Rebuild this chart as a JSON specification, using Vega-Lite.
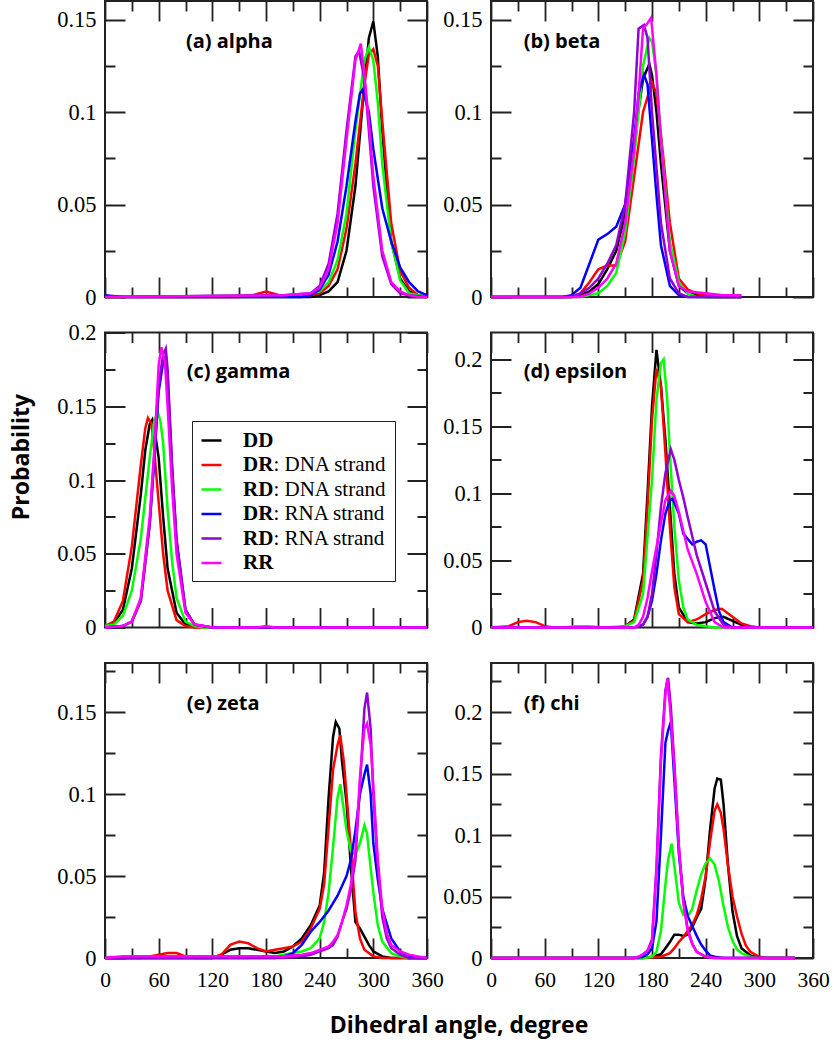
{
"$schema": "https://vega.github.io/schema/vega-lite/v6.json",
"background": "white",
"padding": {"left": 8, "top": 0, "right": 5, "bottom": 5},
"datasets": {
"a": [
{"s":"DD","x":0,"y":0},{"s":"DD","x":230,"y":0},{"s":"DD","x":240,"y":0.001},{"s":"DD","x":250,"y":0.003},{"s":"DD","x":260,"y":0.008},{"s":"DD","x":270,"y":0.025},{"s":"DD","x":280,"y":0.06},{"s":"DD","x":290,"y":0.115},{"s":"DD","x":295,"y":0.14},{"s":"DD","x":300,"y":0.149},{"s":"DD","x":305,"y":0.13},{"s":"DD","x":310,"y":0.09},{"s":"DD","x":320,"y":0.03},{"s":"DD","x":330,"y":0.01},{"s":"DD","x":340,"y":0.003},{"s":"DD","x":350,"y":0.001},{"s":"DD","x":360,"y":0},
{"s":"DRd","x":0,"y":0},{"s":"DRd","x":150,"y":0},{"s":"DRd","x":165,"y":0.001},{"s":"DRd","x":180,"y":0.003},{"s":"DRd","x":195,"y":0.001},{"s":"DRd","x":210,"y":0.001},{"s":"DRd","x":230,"y":0.001},{"s":"DRd","x":240,"y":0.002},{"s":"DRd","x":250,"y":0.006},{"s":"DRd","x":260,"y":0.015},{"s":"DRd","x":270,"y":0.037},{"s":"DRd","x":280,"y":0.072},{"s":"DRd","x":290,"y":0.115},{"s":"DRd","x":295,"y":0.131},{"s":"DRd","x":300,"y":0.134},{"s":"DRd","x":305,"y":0.125},{"s":"DRd","x":310,"y":0.095},{"s":"DRd","x":320,"y":0.04},{"s":"DRd","x":330,"y":0.014},{"s":"DRd","x":340,"y":0.005},{"s":"DRd","x":350,"y":0.001},{"s":"DRd","x":360,"y":0},
{"s":"RDd","x":0,"y":0},{"s":"RDd","x":220,"y":0.001},{"s":"RDd","x":240,"y":0.003},{"s":"RDd","x":250,"y":0.008},{"s":"RDd","x":260,"y":0.02},{"s":"RDd","x":270,"y":0.045},{"s":"RDd","x":280,"y":0.09},{"s":"RDd","x":290,"y":0.128},{"s":"RDd","x":295,"y":0.135},{"s":"RDd","x":300,"y":0.128},{"s":"RDd","x":305,"y":0.105},{"s":"RDd","x":310,"y":0.072},{"s":"RDd","x":320,"y":0.03},{"s":"RDd","x":330,"y":0.009},{"s":"RDd","x":340,"y":0.002},{"s":"RDd","x":350,"y":0.001},{"s":"RDd","x":360,"y":0},
{"s":"DRr","x":0,"y":0.001},{"s":"DRr","x":20,"y":0},{"s":"DRr","x":220,"y":0},{"s":"DRr","x":230,"y":0.001},{"s":"DRr","x":240,"y":0.004},{"s":"DRr","x":250,"y":0.012},{"s":"DRr","x":260,"y":0.03},{"s":"DRr","x":270,"y":0.06},{"s":"DRr","x":280,"y":0.095},{"s":"DRr","x":285,"y":0.11},{"s":"DRr","x":288,"y":0.112},{"s":"DRr","x":295,"y":0.1},{"s":"DRr","x":300,"y":0.08},{"s":"DRr","x":310,"y":0.048},{"s":"DRr","x":320,"y":0.03},{"s":"DRr","x":330,"y":0.016},{"s":"DRr","x":340,"y":0.008},{"s":"DRr","x":350,"y":0.003},{"s":"DRr","x":360,"y":0.001},
{"s":"RDr","x":0,"y":0},{"s":"RDr","x":200,"y":0.001},{"s":"RDr","x":230,"y":0.002},{"s":"RDr","x":240,"y":0.006},{"s":"RDr","x":250,"y":0.018},{"s":"RDr","x":260,"y":0.045},{"s":"RDr","x":270,"y":0.09},{"s":"RDr","x":280,"y":0.13},{"s":"RDr","x":284,"y":0.133},{"s":"RDr","x":290,"y":0.118},{"s":"RDr","x":295,"y":0.09},{"s":"RDr","x":300,"y":0.06},{"s":"RDr","x":310,"y":0.022},{"s":"RDr","x":320,"y":0.007},{"s":"RDr","x":330,"y":0.002},{"s":"RDr","x":340,"y":0.001},{"s":"RDr","x":360,"y":0},
{"s":"RR","x":0,"y":0},{"s":"RR","x":200,"y":0.001},{"s":"RR","x":230,"y":0.002},{"s":"RR","x":240,"y":0.005},{"s":"RR","x":250,"y":0.015},{"s":"RR","x":260,"y":0.04},{"s":"RR","x":270,"y":0.085},{"s":"RR","x":280,"y":0.128},{"s":"RR","x":286,"y":0.137},{"s":"RR","x":290,"y":0.12},{"s":"RR","x":295,"y":0.095},{"s":"RR","x":300,"y":0.065},{"s":"RR","x":310,"y":0.025},{"s":"RR","x":320,"y":0.008},{"s":"RR","x":330,"y":0.003},{"s":"RR","x":340,"y":0.001},{"s":"RR","x":350,"y":0},{"s":"RR","x":360,"y":0}
],
"b": [
{"s":"DD","x":0,"y":0},{"s":"DD","x":90,"y":0},{"s":"DD","x":100,"y":0.001},{"s":"DD","x":110,"y":0.003},{"s":"DD","x":120,"y":0.007},{"s":"DD","x":130,"y":0.015},{"s":"DD","x":140,"y":0.025},{"s":"DD","x":150,"y":0.045},{"s":"DD","x":160,"y":0.085},{"s":"DD","x":170,"y":0.118},{"s":"DD","x":177,"y":0.126},{"s":"DD","x":180,"y":0.12},{"s":"DD","x":185,"y":0.1},{"s":"DD","x":190,"y":0.072},{"s":"DD","x":200,"y":0.025},{"s":"DD","x":210,"y":0.006},{"s":"DD","x":220,"y":0.002},{"s":"DD","x":230,"y":0.001},{"s":"DD","x":240,"y":0},{"s":"DD","x":280,"y":0},
{"s":"DRd","x":0,"y":0},{"s":"DRd","x":90,"y":0},{"s":"DRd","x":100,"y":0.002},{"s":"DRd","x":110,"y":0.008},{"s":"DRd","x":120,"y":0.015},{"s":"DRd","x":130,"y":0.017},{"s":"DRd","x":140,"y":0.017},{"s":"DRd","x":150,"y":0.03},{"s":"DRd","x":160,"y":0.065},{"s":"DRd","x":170,"y":0.1},{"s":"DRd","x":180,"y":0.116},{"s":"DRd","x":185,"y":0.11},{"s":"DRd","x":190,"y":0.088},{"s":"DRd","x":200,"y":0.04},{"s":"DRd","x":210,"y":0.01},{"s":"DRd","x":220,"y":0.004},{"s":"DRd","x":230,"y":0.002},{"s":"DRd","x":240,"y":0.001},{"s":"DRd","x":250,"y":0},{"s":"DRd","x":280,"y":0},
{"s":"RDd","x":0,"y":0},{"s":"RDd","x":100,"y":0},{"s":"RDd","x":110,"y":0.001},{"s":"RDd","x":120,"y":0.002},{"s":"RDd","x":130,"y":0.006},{"s":"RDd","x":140,"y":0.013},{"s":"RDd","x":150,"y":0.035},{"s":"RDd","x":160,"y":0.075},{"s":"RDd","x":170,"y":0.125},{"s":"RDd","x":177,"y":0.14},{"s":"RDd","x":180,"y":0.138},{"s":"RDd","x":185,"y":0.12},{"s":"RDd","x":190,"y":0.085},{"s":"RDd","x":200,"y":0.03},{"s":"RDd","x":210,"y":0.008},{"s":"RDd","x":220,"y":0.002},{"s":"RDd","x":230,"y":0},{"s":"RDd","x":280,"y":0},
{"s":"DRr","x":0,"y":0},{"s":"DRr","x":80,"y":0},{"s":"DRr","x":90,"y":0.001},{"s":"DRr","x":100,"y":0.005},{"s":"DRr","x":110,"y":0.018},{"s":"DRr","x":120,"y":0.031},{"s":"DRr","x":130,"y":0.034},{"s":"DRr","x":140,"y":0.038},{"s":"DRr","x":150,"y":0.05},{"s":"DRr","x":160,"y":0.085},{"s":"DRr","x":165,"y":0.11},{"s":"DRr","x":171,"y":0.12},{"s":"DRr","x":175,"y":0.115},{"s":"DRr","x":180,"y":0.085},{"s":"DRr","x":185,"y":0.055},{"s":"DRr","x":190,"y":0.028},{"s":"DRr","x":200,"y":0.006},{"s":"DRr","x":210,"y":0.001},{"s":"DRr","x":220,"y":0},{"s":"DRr","x":280,"y":0},
{"s":"RDr","x":0,"y":0},{"s":"RDr","x":90,"y":0},{"s":"RDr","x":100,"y":0.002},{"s":"RDr","x":110,"y":0.005},{"s":"RDr","x":120,"y":0.01},{"s":"RDr","x":130,"y":0.018},{"s":"RDr","x":140,"y":0.028},{"s":"RDr","x":150,"y":0.05},{"s":"RDr","x":160,"y":0.1},{"s":"RDr","x":165,"y":0.145},{"s":"RDr","x":171,"y":0.147},{"s":"RDr","x":175,"y":0.14},{"s":"RDr","x":180,"y":0.1},{"s":"RDr","x":185,"y":0.07},{"s":"RDr","x":190,"y":0.04},{"s":"RDr","x":200,"y":0.01},{"s":"RDr","x":210,"y":0.002},{"s":"RDr","x":220,"y":0},{"s":"RDr","x":280,"y":0},
{"s":"RR","x":0,"y":0},{"s":"RR","x":100,"y":0},{"s":"RR","x":110,"y":0.002},{"s":"RR","x":120,"y":0.005},{"s":"RR","x":130,"y":0.01},{"s":"RR","x":140,"y":0.018},{"s":"RR","x":150,"y":0.04},{"s":"RR","x":160,"y":0.08},{"s":"RR","x":165,"y":0.11},{"s":"RR","x":170,"y":0.145},{"s":"RR","x":175,"y":0.148},{"s":"RR","x":179,"y":0.151},{"s":"RR","x":185,"y":0.12},{"s":"RR","x":190,"y":0.085},{"s":"RR","x":200,"y":0.025},{"s":"RR","x":210,"y":0.006},{"s":"RR","x":220,"y":0.003},{"s":"RR","x":240,"y":0.002},{"s":"RR","x":260,"y":0.001},{"s":"RR","x":280,"y":0.001}
],
"c": [
{"s":"DD","x":0,"y":0.001},{"s":"DD","x":10,"y":0.003},{"s":"DD","x":20,"y":0.012},{"s":"DD","x":30,"y":0.04},{"s":"DD","x":40,"y":0.09},{"s":"DD","x":45,"y":0.12},{"s":"DD","x":50,"y":0.138},{"s":"DD","x":53,"y":0.141},{"s":"DD","x":55,"y":0.136},{"s":"DD","x":60,"y":0.115},{"s":"DD","x":65,"y":0.075},{"s":"DD","x":70,"y":0.04},{"s":"DD","x":80,"y":0.01},{"s":"DD","x":90,"y":0.002},{"s":"DD","x":100,"y":0.001},{"s":"DD","x":120,"y":0},{"s":"DD","x":360,"y":0},
{"s":"DRd","x":0,"y":0.001},{"s":"DRd","x":10,"y":0.004},{"s":"DRd","x":20,"y":0.018},{"s":"DRd","x":30,"y":0.055},{"s":"DRd","x":40,"y":0.11},{"s":"DRd","x":45,"y":0.135},{"s":"DRd","x":48,"y":0.142},{"s":"DRd","x":52,"y":0.138},{"s":"DRd","x":55,"y":0.12},{"s":"DRd","x":60,"y":0.085},{"s":"DRd","x":65,"y":0.05},{"s":"DRd","x":70,"y":0.025},{"s":"DRd","x":80,"y":0.005},{"s":"DRd","x":90,"y":0.001},{"s":"DRd","x":100,"y":0},{"s":"DRd","x":360,"y":0},
{"s":"RDd","x":0,"y":0.001},{"s":"RDd","x":10,"y":0.002},{"s":"RDd","x":20,"y":0.008},{"s":"RDd","x":30,"y":0.025},{"s":"RDd","x":40,"y":0.06},{"s":"RDd","x":50,"y":0.115},{"s":"RDd","x":55,"y":0.14},{"s":"RDd","x":59,"y":0.146},{"s":"RDd","x":62,"y":0.14},{"s":"RDd","x":65,"y":0.125},{"s":"RDd","x":70,"y":0.08},{"s":"RDd","x":75,"y":0.045},{"s":"RDd","x":80,"y":0.02},{"s":"RDd","x":90,"y":0.004},{"s":"RDd","x":100,"y":0.001},{"s":"RDd","x":110,"y":0},{"s":"RDd","x":360,"y":0},
{"s":"DRr","x":0,"y":0},{"s":"DRr","x":20,"y":0.001},{"s":"DRr","x":30,"y":0.004},{"s":"DRr","x":40,"y":0.018},{"s":"DRr","x":50,"y":0.07},{"s":"DRr","x":55,"y":0.113},{"s":"DRr","x":60,"y":0.16},{"s":"DRr","x":65,"y":0.18},{"s":"DRr","x":68,"y":0.184},{"s":"DRr","x":70,"y":0.17},{"s":"DRr","x":75,"y":0.108},{"s":"DRr","x":80,"y":0.058},{"s":"DRr","x":90,"y":0.012},{"s":"DRr","x":100,"y":0.002},{"s":"DRr","x":110,"y":0.001},{"s":"DRr","x":120,"y":0},{"s":"DRr","x":360,"y":0},
{"s":"RDr","x":0,"y":0},{"s":"RDr","x":20,"y":0.001},{"s":"RDr","x":30,"y":0.004},{"s":"RDr","x":40,"y":0.018},{"s":"RDr","x":50,"y":0.07},{"s":"RDr","x":55,"y":0.115},{"s":"RDr","x":60,"y":0.165},{"s":"RDr","x":65,"y":0.185},{"s":"RDr","x":68,"y":0.189},{"s":"RDr","x":70,"y":0.175},{"s":"RDr","x":75,"y":0.11},{"s":"RDr","x":80,"y":0.06},{"s":"RDr","x":90,"y":0.012},{"s":"RDr","x":100,"y":0.002},{"s":"RDr","x":110,"y":0.001},{"s":"RDr","x":120,"y":0},{"s":"RDr","x":360,"y":0},
{"s":"RR","x":0,"y":0},{"s":"RR","x":20,"y":0.001},{"s":"RR","x":30,"y":0.004},{"s":"RR","x":40,"y":0.02},{"s":"RR","x":50,"y":0.075},{"s":"RR","x":55,"y":0.12},{"s":"RR","x":60,"y":0.178},{"s":"RR","x":63,"y":0.19},{"s":"RR","x":67,"y":0.18},{"s":"RR","x":70,"y":0.15},{"s":"RR","x":75,"y":0.095},{"s":"RR","x":80,"y":0.05},{"s":"RR","x":90,"y":0.01},{"s":"RR","x":100,"y":0.002},{"s":"RR","x":110,"y":0.001},{"s":"RR","x":120,"y":0},{"s":"RR","x":170,"y":0},{"s":"RR","x":180,"y":0.001},{"s":"RR","x":190,"y":0},{"s":"RR","x":360,"y":0}
],
"d": [
{"s":"DD","x":0,"y":0},{"s":"DD","x":140,"y":0},{"s":"DD","x":150,"y":0.001},{"s":"DD","x":160,"y":0.006},{"s":"DD","x":170,"y":0.04},{"s":"DD","x":175,"y":0.1},{"s":"DD","x":180,"y":0.165},{"s":"DD","x":185,"y":0.207},{"s":"DD","x":190,"y":0.18},{"s":"DD","x":195,"y":0.14},{"s":"DD","x":200,"y":0.09},{"s":"DD","x":205,"y":0.04},{"s":"DD","x":210,"y":0.015},{"s":"DD","x":220,"y":0.004},{"s":"DD","x":230,"y":0.003},{"s":"DD","x":240,"y":0.004},{"s":"DD","x":250,"y":0.007},{"s":"DD","x":260,"y":0.008},{"s":"DD","x":270,"y":0.005},{"s":"DD","x":280,"y":0.002},{"s":"DD","x":290,"y":0},{"s":"DD","x":360,"y":0},
{"s":"DRd","x":0,"y":0},{"s":"DRd","x":20,"y":0.001},{"s":"DRd","x":30,"y":0.004},{"s":"DRd","x":40,"y":0.005},{"s":"DRd","x":50,"y":0.004},{"s":"DRd","x":60,"y":0.001},{"s":"DRd","x":70,"y":0},{"s":"DRd","x":140,"y":0},{"s":"DRd","x":150,"y":0.001},{"s":"DRd","x":160,"y":0.005},{"s":"DRd","x":170,"y":0.035},{"s":"DRd","x":175,"y":0.09},{"s":"DRd","x":180,"y":0.155},{"s":"DRd","x":185,"y":0.193},{"s":"DRd","x":190,"y":0.18},{"s":"DRd","x":195,"y":0.13},{"s":"DRd","x":200,"y":0.075},{"s":"DRd","x":205,"y":0.03},{"s":"DRd","x":210,"y":0.01},{"s":"DRd","x":220,"y":0.004},{"s":"DRd","x":230,"y":0.006},{"s":"DRd","x":240,"y":0.01},{"s":"DRd","x":250,"y":0.013},{"s":"DRd","x":258,"y":0.014},{"s":"DRd","x":270,"y":0.008},{"s":"DRd","x":280,"y":0.003},{"s":"DRd","x":290,"y":0.001},{"s":"DRd","x":300,"y":0},{"s":"DRd","x":360,"y":0},
{"s":"RDd","x":0,"y":0},{"s":"RDd","x":80,"y":0},{"s":"RDd","x":95,"y":0.001},{"s":"RDd","x":110,"y":0.001},{"s":"RDd","x":125,"y":0},{"s":"RDd","x":150,"y":0.001},{"s":"RDd","x":160,"y":0.004},{"s":"RDd","x":170,"y":0.025},{"s":"RDd","x":180,"y":0.11},{"s":"RDd","x":185,"y":0.17},{"s":"RDd","x":190,"y":0.197},{"s":"RDd","x":193,"y":0.2},{"s":"RDd","x":197,"y":0.17},{"s":"RDd","x":200,"y":0.13},{"s":"RDd","x":205,"y":0.075},{"s":"RDd","x":210,"y":0.035},{"s":"RDd","x":215,"y":0.015},{"s":"RDd","x":220,"y":0.006},{"s":"RDd","x":230,"y":0.002},{"s":"RDd","x":240,"y":0.001},{"s":"RDd","x":250,"y":0},{"s":"RDd","x":360,"y":0},
{"s":"DRr","x":0,"y":0},{"s":"DRr","x":160,"y":0},{"s":"DRr","x":170,"y":0.002},{"s":"DRr","x":175,"y":0.008},{"s":"DRr","x":180,"y":0.02},{"s":"DRr","x":185,"y":0.04},{"s":"DRr","x":190,"y":0.065},{"s":"DRr","x":195,"y":0.085},{"s":"DRr","x":200,"y":0.095},{"s":"DRr","x":203,"y":0.096},{"s":"DRr","x":210,"y":0.085},{"s":"DRr","x":215,"y":0.07},{"s":"DRr","x":220,"y":0.066},{"s":"DRr","x":225,"y":0.062},{"s":"DRr","x":230,"y":0.064},{"s":"DRr","x":235,"y":0.065},{"s":"DRr","x":240,"y":0.062},{"s":"DRr","x":245,"y":0.045},{"s":"DRr","x":250,"y":0.028},{"s":"DRr","x":255,"y":0.012},{"s":"DRr","x":260,"y":0.004},{"s":"DRr","x":270,"y":0},{"s":"DRr","x":360,"y":0},
{"s":"RDr","x":0,"y":0},{"s":"RDr","x":160,"y":0},{"s":"RDr","x":170,"y":0.002},{"s":"RDr","x":175,"y":0.008},{"s":"RDr","x":180,"y":0.025},{"s":"RDr","x":185,"y":0.055},{"s":"RDr","x":190,"y":0.09},{"s":"RDr","x":195,"y":0.115},{"s":"RDr","x":201,"y":0.133},{"s":"RDr","x":205,"y":0.125},{"s":"RDr","x":210,"y":0.11},{"s":"RDr","x":215,"y":0.097},{"s":"RDr","x":220,"y":0.082},{"s":"RDr","x":230,"y":0.054},{"s":"RDr","x":240,"y":0.033},{"s":"RDr","x":250,"y":0.012},{"s":"RDr","x":260,"y":0.002},{"s":"RDr","x":270,"y":0},{"s":"RDr","x":360,"y":0},
{"s":"RR","x":0,"y":0},{"s":"RR","x":160,"y":0},{"s":"RR","x":165,"y":0.002},{"s":"RR","x":170,"y":0.008},{"s":"RR","x":175,"y":0.022},{"s":"RR","x":180,"y":0.042},{"s":"RR","x":185,"y":0.06},{"s":"RR","x":190,"y":0.078},{"s":"RR","x":195,"y":0.095},{"s":"RR","x":201,"y":0.102},{"s":"RR","x":205,"y":0.098},{"s":"RR","x":210,"y":0.086},{"s":"RR","x":220,"y":0.058},{"s":"RR","x":230,"y":0.04},{"s":"RR","x":240,"y":0.019},{"s":"RR","x":250,"y":0.004},{"s":"RR","x":260,"y":0},{"s":"RR","x":360,"y":0}
],
"e": [
{"s":"DD","x":0,"y":0},{"s":"DD","x":120,"y":0},{"s":"DD","x":130,"y":0.002},{"s":"DD","x":140,"y":0.005},{"s":"DD","x":150,"y":0.006},{"s":"DD","x":160,"y":0.006},{"s":"DD","x":170,"y":0.005},{"s":"DD","x":180,"y":0.004},{"s":"DD","x":190,"y":0.003},{"s":"DD","x":200,"y":0.004},{"s":"DD","x":210,"y":0.007},{"s":"DD","x":220,"y":0.012},{"s":"DD","x":230,"y":0.02},{"s":"DD","x":240,"y":0.032},{"s":"DD","x":245,"y":0.052},{"s":"DD","x":250,"y":0.098},{"s":"DD","x":255,"y":0.135},{"s":"DD","x":258,"y":0.144},{"s":"DD","x":262,"y":0.14},{"s":"DD","x":265,"y":0.12},{"s":"DD","x":270,"y":0.095},{"s":"DD","x":275,"y":0.055},{"s":"DD","x":280,"y":0.022},{"s":"DD","x":285,"y":0.018},{"s":"DD","x":290,"y":0.013},{"s":"DD","x":295,"y":0.008},{"s":"DD","x":300,"y":0.004},{"s":"DD","x":310,"y":0.001},{"s":"DD","x":320,"y":0},{"s":"DD","x":360,"y":0},
{"s":"DRd","x":0,"y":0},{"s":"DRd","x":40,"y":0},{"s":"DRd","x":50,"y":0.001},{"s":"DRd","x":60,"y":0.002},{"s":"DRd","x":70,"y":0.003},{"s":"DRd","x":80,"y":0.003},{"s":"DRd","x":90,"y":0.001},{"s":"DRd","x":100,"y":0},{"s":"DRd","x":120,"y":0},{"s":"DRd","x":130,"y":0.002},{"s":"DRd","x":140,"y":0.008},{"s":"DRd","x":150,"y":0.01},{"s":"DRd","x":160,"y":0.009},{"s":"DRd","x":170,"y":0.006},{"s":"DRd","x":180,"y":0.004},{"s":"DRd","x":190,"y":0.005},{"s":"DRd","x":200,"y":0.006},{"s":"DRd","x":210,"y":0.007},{"s":"DRd","x":220,"y":0.01},{"s":"DRd","x":230,"y":0.018},{"s":"DRd","x":240,"y":0.03},{"s":"DRd","x":245,"y":0.045},{"s":"DRd","x":250,"y":0.08},{"s":"DRd","x":255,"y":0.115},{"s":"DRd","x":260,"y":0.13},{"s":"DRd","x":263,"y":0.136},{"s":"DRd","x":267,"y":0.12},{"s":"DRd","x":270,"y":0.1},{"s":"DRd","x":275,"y":0.065},{"s":"DRd","x":280,"y":0.028},{"s":"DRd","x":285,"y":0.012},{"s":"DRd","x":290,"y":0.005},{"s":"DRd","x":300,"y":0.001},{"s":"DRd","x":310,"y":0},{"s":"DRd","x":360,"y":0},
{"s":"RDd","x":0,"y":0},{"s":"RDd","x":160,"y":0},{"s":"RDd","x":170,"y":0.001},{"s":"RDd","x":190,"y":0.001},{"s":"RDd","x":200,"y":0.002},{"s":"RDd","x":210,"y":0.003},{"s":"RDd","x":220,"y":0.004},{"s":"RDd","x":230,"y":0.006},{"s":"RDd","x":240,"y":0.012},{"s":"RDd","x":245,"y":0.022},{"s":"RDd","x":250,"y":0.04},{"s":"RDd","x":255,"y":0.068},{"s":"RDd","x":260,"y":0.098},{"s":"RDd","x":263,"y":0.106},{"s":"RDd","x":267,"y":0.09},{"s":"RDd","x":270,"y":0.078},{"s":"RDd","x":275,"y":0.065},{"s":"RDd","x":280,"y":0.063},{"s":"RDd","x":285,"y":0.07},{"s":"RDd","x":290,"y":0.081},{"s":"RDd","x":293,"y":0.076},{"s":"RDd","x":295,"y":0.065},{"s":"RDd","x":300,"y":0.04},{"s":"RDd","x":305,"y":0.02},{"s":"RDd","x":310,"y":0.01},{"s":"RDd","x":320,"y":0.003},{"s":"RDd","x":330,"y":0.001},{"s":"RDd","x":340,"y":0},{"s":"RDd","x":360,"y":0},
{"s":"DRr","x":0,"y":0},{"s":"DRr","x":190,"y":0},{"s":"DRr","x":200,"y":0.001},{"s":"DRr","x":210,"y":0.003},{"s":"DRr","x":220,"y":0.008},{"s":"DRr","x":230,"y":0.016},{"s":"DRr","x":240,"y":0.022},{"s":"DRr","x":250,"y":0.029},{"s":"DRr","x":260,"y":0.038},{"s":"DRr","x":270,"y":0.05},{"s":"DRr","x":275,"y":0.06},{"s":"DRr","x":280,"y":0.078},{"s":"DRr","x":285,"y":0.1},{"s":"DRr","x":290,"y":0.112},{"s":"DRr","x":293,"y":0.118},{"s":"DRr","x":297,"y":0.1},{"s":"DRr","x":300,"y":0.07},{"s":"DRr","x":305,"y":0.048},{"s":"DRr","x":310,"y":0.03},{"s":"DRr","x":320,"y":0.012},{"s":"DRr","x":330,"y":0.004},{"s":"DRr","x":340,"y":0.001},{"s":"DRr","x":350,"y":0},{"s":"DRr","x":360,"y":0},
{"s":"RDr","x":0,"y":0},{"s":"RDr","x":200,"y":0},{"s":"RDr","x":220,"y":0.001},{"s":"RDr","x":230,"y":0.002},{"s":"RDr","x":240,"y":0.004},{"s":"RDr","x":250,"y":0.006},{"s":"RDr","x":255,"y":0.008},{"s":"RDr","x":260,"y":0.013},{"s":"RDr","x":265,"y":0.022},{"s":"RDr","x":270,"y":0.03},{"s":"RDr","x":275,"y":0.042},{"s":"RDr","x":280,"y":0.06},{"s":"RDr","x":285,"y":0.105},{"s":"RDr","x":290,"y":0.152},{"s":"RDr","x":293,"y":0.162},{"s":"RDr","x":297,"y":0.14},{"s":"RDr","x":300,"y":0.1},{"s":"RDr","x":305,"y":0.055},{"s":"RDr","x":310,"y":0.025},{"s":"RDr","x":315,"y":0.012},{"s":"RDr","x":320,"y":0.006},{"s":"RDr","x":330,"y":0.002},{"s":"RDr","x":340,"y":0},{"s":"RDr","x":360,"y":0},
{"s":"RR","x":0,"y":0},{"s":"RR","x":20,"y":0.001},{"s":"RR","x":100,"y":0.001},{"s":"RR","x":200,"y":0.001},{"s":"RR","x":220,"y":0.002},{"s":"RR","x":230,"y":0.003},{"s":"RR","x":240,"y":0.005},{"s":"RR","x":250,"y":0.007},{"s":"RR","x":255,"y":0.01},{"s":"RR","x":260,"y":0.014},{"s":"RR","x":265,"y":0.022},{"s":"RR","x":270,"y":0.032},{"s":"RR","x":275,"y":0.045},{"s":"RR","x":280,"y":0.065},{"s":"RR","x":285,"y":0.11},{"s":"RR","x":290,"y":0.14},{"s":"RR","x":293,"y":0.143},{"s":"RR","x":297,"y":0.13},{"s":"RR","x":300,"y":0.105},{"s":"RR","x":305,"y":0.06},{"s":"RR","x":310,"y":0.03},{"s":"RR","x":315,"y":0.015},{"s":"RR","x":320,"y":0.008},{"s":"RR","x":330,"y":0.004},{"s":"RR","x":340,"y":0.002},{"s":"RR","x":350,"y":0.001},{"s":"RR","x":360,"y":0}
],
"f": [
{"s":"DD","x":0,"y":0},{"s":"DD","x":170,"y":0},{"s":"DD","x":180,"y":0.001},{"s":"DD","x":190,"y":0.003},{"s":"DD","x":195,"y":0.008},{"s":"DD","x":200,"y":0.013},{"s":"DD","x":205,"y":0.019},{"s":"DD","x":210,"y":0.019},{"s":"DD","x":215,"y":0.018},{"s":"DD","x":220,"y":0.019},{"s":"DD","x":225,"y":0.025},{"s":"DD","x":230,"y":0.033},{"s":"DD","x":235,"y":0.04},{"s":"DD","x":240,"y":0.065},{"s":"DD","x":245,"y":0.105},{"s":"DD","x":250,"y":0.138},{"s":"DD","x":253,"y":0.146},{"s":"DD","x":257,"y":0.145},{"s":"DD","x":260,"y":0.125},{"s":"DD","x":265,"y":0.075},{"s":"DD","x":270,"y":0.038},{"s":"DD","x":275,"y":0.018},{"s":"DD","x":280,"y":0.008},{"s":"DD","x":290,"y":0.002},{"s":"DD","x":300,"y":0},{"s":"DD","x":340,"y":0},
{"s":"DRd","x":0,"y":0},{"s":"DRd","x":170,"y":0},{"s":"DRd","x":190,"y":0.001},{"s":"DRd","x":200,"y":0.004},{"s":"DRd","x":205,"y":0.008},{"s":"DRd","x":210,"y":0.013},{"s":"DRd","x":215,"y":0.017},{"s":"DRd","x":220,"y":0.022},{"s":"DRd","x":225,"y":0.027},{"s":"DRd","x":230,"y":0.035},{"s":"DRd","x":235,"y":0.048},{"s":"DRd","x":240,"y":0.067},{"s":"DRd","x":245,"y":0.095},{"s":"DRd","x":250,"y":0.12},{"s":"DRd","x":253,"y":0.125},{"s":"DRd","x":257,"y":0.118},{"s":"DRd","x":260,"y":0.105},{"s":"DRd","x":265,"y":0.075},{"s":"DRd","x":270,"y":0.05},{"s":"DRd","x":275,"y":0.034},{"s":"DRd","x":280,"y":0.02},{"s":"DRd","x":285,"y":0.01},{"s":"DRd","x":290,"y":0.005},{"s":"DRd","x":300,"y":0.001},{"s":"DRd","x":310,"y":0},{"s":"DRd","x":340,"y":0},
{"s":"RDd","x":0,"y":0},{"s":"RDd","x":170,"y":0},{"s":"RDd","x":180,"y":0.001},{"s":"RDd","x":185,"y":0.005},{"s":"RDd","x":190,"y":0.022},{"s":"RDd","x":195,"y":0.06},{"s":"RDd","x":198,"y":0.08},{"s":"RDd","x":202,"y":0.093},{"s":"RDd","x":205,"y":0.075},{"s":"RDd","x":210,"y":0.045},{"s":"RDd","x":215,"y":0.035},{"s":"RDd","x":220,"y":0.034},{"s":"RDd","x":225,"y":0.04},{"s":"RDd","x":230,"y":0.055},{"s":"RDd","x":235,"y":0.068},{"s":"RDd","x":240,"y":0.077},{"s":"RDd","x":245,"y":0.081},{"s":"RDd","x":250,"y":0.076},{"s":"RDd","x":255,"y":0.062},{"s":"RDd","x":260,"y":0.042},{"s":"RDd","x":265,"y":0.025},{"s":"RDd","x":270,"y":0.014},{"s":"RDd","x":275,"y":0.007},{"s":"RDd","x":280,"y":0.004},{"s":"RDd","x":290,"y":0.001},{"s":"RDd","x":300,"y":0},{"s":"RDd","x":340,"y":0},
{"s":"DRr","x":0,"y":0},{"s":"DRr","x":160,"y":0},{"s":"DRr","x":170,"y":0.001},{"s":"DRr","x":175,"y":0.003},{"s":"DRr","x":180,"y":0.008},{"s":"DRr","x":185,"y":0.03},{"s":"DRr","x":190,"y":0.1},{"s":"DRr","x":195,"y":0.175},{"s":"DRr","x":198,"y":0.185},{"s":"DRr","x":201,"y":0.192},{"s":"DRr","x":205,"y":0.145},{"s":"DRr","x":210,"y":0.085},{"s":"DRr","x":215,"y":0.05},{"s":"DRr","x":220,"y":0.034},{"s":"DRr","x":225,"y":0.026},{"s":"DRr","x":230,"y":0.018},{"s":"DRr","x":235,"y":0.011},{"s":"DRr","x":240,"y":0.006},{"s":"DRr","x":245,"y":0.002},{"s":"DRr","x":250,"y":0.001},{"s":"DRr","x":260,"y":0},{"s":"DRr","x":340,"y":0},
{"s":"RDr","x":0,"y":0},{"s":"RDr","x":160,"y":0},{"s":"RDr","x":165,"y":0.001},{"s":"RDr","x":170,"y":0.003},{"s":"RDr","x":175,"y":0.006},{"s":"RDr","x":180,"y":0.015},{"s":"RDr","x":185,"y":0.074},{"s":"RDr","x":190,"y":0.165},{"s":"RDr","x":195,"y":0.218},{"s":"RDr","x":198,"y":0.228},{"s":"RDr","x":201,"y":0.205},{"s":"RDr","x":205,"y":0.158},{"s":"RDr","x":210,"y":0.092},{"s":"RDr","x":215,"y":0.046},{"s":"RDr","x":220,"y":0.023},{"s":"RDr","x":225,"y":0.012},{"s":"RDr","x":230,"y":0.005},{"s":"RDr","x":240,"y":0.001},{"s":"RDr","x":250,"y":0},{"s":"RDr","x":340,"y":0},
{"s":"RR","x":0,"y":0},{"s":"RR","x":160,"y":0},{"s":"RR","x":165,"y":0.001},{"s":"RR","x":170,"y":0.003},{"s":"RR","x":175,"y":0.006},{"s":"RR","x":180,"y":0.013},{"s":"RR","x":185,"y":0.07},{"s":"RR","x":190,"y":0.16},{"s":"RR","x":195,"y":0.215},{"s":"RR","x":197,"y":0.227},{"s":"RR","x":200,"y":0.205},{"s":"RR","x":205,"y":0.155},{"s":"RR","x":210,"y":0.09},{"s":"RR","x":215,"y":0.045},{"s":"RR","x":220,"y":0.022},{"s":"RR","x":225,"y":0.011},{"s":"RR","x":230,"y":0.005},{"s":"RR","x":240,"y":0.001},{"s":"RR","x":250,"y":0},{"s":"RR","x":340,"y":0}
]
},
"columns": 2,
"bounds": "flush",
"spacing": {"row": 35.5, "column": 64},
"concat": [
{"width":322,"height":296,"data":{"name":"a"},
 "resolve":{"axis":{"x":"independent","y":"independent"}},
 "layer":[
  {"mark":{"type":"line","strokeWidth":2.5},
   "encoding":{
    "x":{"field":"x","type":"quantitative","scale":{"domain":[0,360],"nice":false},"axis":{"orient":"bottom","labels":false,"ticks":false,"domain":false,"grid":true,"gridColor":"#222","gridWidth":1.8,"gridOpacity":1,"values":[0,30,60,90,120,150,180,210,240,270,300,330,360],"gridDash":{"condition":{"test":"datum.value % 60 === 0","value":[20,256,20]},"value":[10,276,10]},"title":null}},
    "y":{"field":"y","type":"quantitative","scale":{"domain":[0,0.16],"nice":false},"axis":{"orient":"left","ticks":false,"domain":false,"grid":true,"gridColor":"#222","gridWidth":1.8,"gridOpacity":1,"values":[0,0.025,0.05,0.075,0.1,0.125,0.15],"gridDash":{"condition":{"test":"abs(datum.value*20-round(datum.value*20))<0.000001","value":[20,282,20]},"value":[10,302,10]},"format":"~g","labelExpr":"abs(datum.value*20-round(datum.value*20))<0.000001 ? datum.label : ''","labelPadding":9,"labelFont":"Liberation Serif","labelFontSize":22.5,"labelColor":"#000","labelOverlap":false,"title":null}},
    "color":{"field":"s","type":"nominal","scale":{"domain":["DD","DRd","RDd","DRr","RDr","RR"],"range":["#000000","#ff0000","#00ff00","#0000ff","#9400d3","#ff00ff"]},"legend":{"title":null,"orient":"none","legendX":87,"legendY":420,"symbolType":"stroke","symbolSize":400,"symbolStrokeWidth":2.5,"labelFont":"Liberation Serif","labelFontSize":21,"labelFontWeight":"bold","labelColor":"#000","labelOffset":20,"rowPadding":2.5,"padding":8,"labelLimit":400,"labelExpr":"slice(datum.label,0,2)"}}}},
  {"data":{"values":[{"t":"(a) alpha"}]},
   "mark":{"type":"text","align":"left","baseline":"middle","font":"Open Sans","fontWeight":"bold","fontSize":20,"color":"#000"},
   "encoding":{"text":{"field":"t","type":"nominal"},"x":{"datum":90.5,"type":"quantitative","axis":null},"y":{"datum":0.1377,"type":"quantitative","axis":null}}}
 ]},
{"width":322,"height":296,"data":{"name":"b"},
 "resolve":{"axis":{"x":"independent","y":"independent"}},
 "layer":[
  {"mark":{"type":"line","strokeWidth":2.5},
   "encoding":{
    "x":{"field":"x","type":"quantitative","scale":{"domain":[0,360],"nice":false},"axis":{"orient":"bottom","labels":false,"ticks":false,"domain":false,"grid":true,"gridColor":"#222","gridWidth":1.8,"gridOpacity":1,"values":[0,30,60,90,120,150,180,210,240,270,300,330,360],"gridDash":{"condition":{"test":"datum.value % 60 === 0","value":[20,256,20]},"value":[10,276,10]},"title":null}},
    "y":{"field":"y","type":"quantitative","scale":{"domain":[0,0.16],"nice":false},"axis":{"orient":"left","ticks":false,"domain":false,"grid":true,"gridColor":"#222","gridWidth":1.8,"gridOpacity":1,"values":[0,0.025,0.05,0.075,0.1,0.125,0.15],"gridDash":{"condition":{"test":"abs(datum.value*20-round(datum.value*20))<0.000001","value":[20,282,20]},"value":[10,302,10]},"format":"~g","labelExpr":"abs(datum.value*20-round(datum.value*20))<0.000001 ? datum.label : ''","labelPadding":9,"labelFont":"Liberation Serif","labelFontSize":22.5,"labelColor":"#000","labelOverlap":false,"title":null}},
    "color":{"field":"s","type":"nominal","scale":{"domain":["DD","DRd","RDd","DRr","RDr","RR"],"range":["#000000","#ff0000","#00ff00","#0000ff","#9400d3","#ff00ff"]},"legend":{"title":null,"orient":"none","legendX":87,"legendY":420,"symbolType":"stroke","symbolSize":400,"symbolStrokeWidth":2.5,"labelFont":"Liberation Serif","labelFontSize":21,"labelFontWeight":"bold","labelColor":"#000","labelOffset":20,"rowPadding":2.5,"padding":8,"labelLimit":400,"labelExpr":"slice(datum.label,0,2)"}}}},
  {"data":{"values":[{"t":"(b) beta"}]},
   "mark":{"type":"text","align":"left","baseline":"middle","font":"Open Sans","fontWeight":"bold","fontSize":20,"color":"#000"},
   "encoding":{"text":{"field":"t","type":"nominal"},"x":{"datum":36.5,"type":"quantitative","axis":null},"y":{"datum":0.138,"type":"quantitative","axis":null}}}
 ]},
{"width":322,"height":295,"data":{"name":"c"},
 "resolve":{"axis":{"x":"independent","y":"independent"}},
 "layer":[
  {"mark":{"type":"line","strokeWidth":2.5},
   "encoding":{
    "x":{"field":"x","type":"quantitative","scale":{"domain":[0,360],"nice":false},"axis":{"orient":"bottom","labels":false,"ticks":false,"domain":false,"grid":true,"gridColor":"#222","gridWidth":1.8,"gridOpacity":1,"values":[0,30,60,90,120,150,180,210,240,270,300,330,360],"gridDash":{"condition":{"test":"datum.value % 60 === 0","value":[20,255,20]},"value":[10,275,10]},"title":null}},
    "y":{"field":"y","type":"quantitative","scale":{"domain":[0,0.2],"nice":false},"axis":{"orient":"left","ticks":false,"domain":false,"grid":true,"gridColor":"#222","gridWidth":1.8,"gridOpacity":1,"values":[0,0.025,0.05,0.075,0.1,0.125,0.15,0.175,0.2],"gridDash":{"condition":{"test":"abs(datum.value*20-round(datum.value*20))<0.000001","value":[20,282,20]},"value":[10,302,10]},"format":"~g","labelExpr":"abs(datum.value*20-round(datum.value*20))<0.000001 ? datum.label : ''","labelPadding":9,"labelFont":"Liberation Serif","labelFontSize":22.5,"labelColor":"#000","labelOverlap":false,"title":"Probability","titleX":-77,"titleY":124,"titleAngle":-90,"titleAlign":"center","titleBaseline":"alphabetic"}},
    "color":{"field":"s","type":"nominal","scale":{"domain":["DD","DRd","RDd","DRr","RDr","RR"],"range":["#000000","#ff0000","#00ff00","#0000ff","#9400d3","#ff00ff"]},"legend":{"title":null,"orient":"none","legendX":87,"legendY":420,"symbolType":"stroke","symbolSize":400,"symbolStrokeWidth":2.5,"labelFont":"Liberation Serif","labelFontSize":21,"labelFontWeight":"bold","labelColor":"#000","labelOffset":20,"rowPadding":2.5,"padding":8,"labelLimit":400,"labelExpr":"slice(datum.label,0,2)"}}}},
  {"data":{"values":[{"t":"(c) gamma"}]},
   "mark":{"type":"text","align":"left","baseline":"middle","font":"Open Sans","fontWeight":"bold","fontSize":20,"color":"#000"},
   "encoding":{"text":{"field":"t","type":"nominal"},"x":{"datum":91.3,"type":"quantitative","axis":null},"y":{"datum":0.1734,"type":"quantitative","axis":null}}},
  {"data":{"values":[{"k":"1"},{"k":"2"},{"k":"3"},{"k":"4"},{"k":"5"},{"k":"6"}]},
   "mark":{"type":"point","opacity":0},
   "encoding":{"shape":{"field":"k","type":"nominal","scale":{"domain":["1","2","3","4","5","6"],"range":["stroke","stroke","stroke","stroke","stroke","stroke"]},"legend":{"title":null,"orient":"none","legendX":87,"legendY":420,"symbolSize":400,"symbolOpacity":0,"symbolStrokeWidth":2.5,"labelFont":"Liberation Serif","labelFontSize":21,"labelFontWeight":"normal","labelColor":"#000","labelOffset":20,"rowPadding":2.5,"padding":8,"labelLimit":400,"strokeColor":"#222","labelExpr":"(datum.label=='2'||datum.label=='3') ? '\u200b\u00a0\u00a0\u00a0\u00a0\u00a0\u2009: DNA strand' : ((datum.label=='4'||datum.label=='5') ? '\u200b\u00a0\u00a0\u00a0\u00a0\u00a0\u2009: RNA strand' : '\u200b')"}}}}
 ]},
{"width":322,"height":295,"data":{"name":"d"},
 "resolve":{"axis":{"x":"independent","y":"independent"}},
 "layer":[
  {"mark":{"type":"line","strokeWidth":2.5},
   "encoding":{
    "x":{"field":"x","type":"quantitative","scale":{"domain":[0,360],"nice":false},"axis":{"orient":"bottom","labels":false,"ticks":false,"domain":false,"grid":true,"gridColor":"#222","gridWidth":1.8,"gridOpacity":1,"values":[0,30,60,90,120,150,180,210,240,270,300,330,360],"gridDash":{"condition":{"test":"datum.value % 60 === 0","value":[20,255,20]},"value":[10,275,10]},"title":null}},
    "y":{"field":"y","type":"quantitative","scale":{"domain":[0,0.22],"nice":false},"axis":{"orient":"left","ticks":false,"domain":false,"grid":true,"gridColor":"#222","gridWidth":1.8,"gridOpacity":1,"values":[0,0.025,0.05,0.075,0.1,0.125,0.15,0.175,0.2],"gridDash":{"condition":{"test":"abs(datum.value*20-round(datum.value*20))<0.000001","value":[20,282,20]},"value":[10,302,10]},"format":"~g","labelExpr":"abs(datum.value*20-round(datum.value*20))<0.000001 ? datum.label : ''","labelPadding":9,"labelFont":"Liberation Serif","labelFontSize":22.5,"labelColor":"#000","labelOverlap":false,"title":null}},
    "color":{"field":"s","type":"nominal","scale":{"domain":["DD","DRd","RDd","DRr","RDr","RR"],"range":["#000000","#ff0000","#00ff00","#0000ff","#9400d3","#ff00ff"]},"legend":{"title":null,"orient":"none","legendX":87,"legendY":420,"symbolType":"stroke","symbolSize":400,"symbolStrokeWidth":2.5,"labelFont":"Liberation Serif","labelFontSize":21,"labelFontWeight":"bold","labelColor":"#000","labelOffset":20,"rowPadding":2.5,"padding":8,"labelLimit":400,"labelExpr":"slice(datum.label,0,2)"}}}},
  {"data":{"values":[{"t":"(d) epsilon"}]},
   "mark":{"type":"text","align":"left","baseline":"middle","font":"Open Sans","fontWeight":"bold","fontSize":20,"color":"#000"},
   "encoding":{"text":{"field":"t","type":"nominal"},"x":{"datum":36.5,"type":"quantitative","axis":null},"y":{"datum":0.1907,"type":"quantitative","axis":null}}}
 ]},
{"width":322,"height":295,"data":{"name":"e"},
 "resolve":{"axis":{"x":"independent","y":"independent"}},
 "layer":[
  {"mark":{"type":"line","strokeWidth":2.5},
   "encoding":{
    "x":{"field":"x","type":"quantitative","scale":{"domain":[0,360],"nice":false},"axis":{"orient":"bottom","ticks":false,"domain":false,"grid":true,"gridColor":"#222","gridWidth":1.8,"gridOpacity":1,"values":[0,30,60,90,120,150,180,210,240,270,300,330,360],"gridDash":{"condition":{"test":"datum.value % 60 === 0","value":[20,255,20]},"value":[10,275,10]},"format":"d","labelExpr":"datum.value % 60 === 0 ? datum.label : ''","labelFlush":false,"labelOverlap":false,"labelPadding":11,"labelFont":"Liberation Serif","labelFontSize":21.5,"labelColor":"#000","title":"Dihedral angle, degree","titleX":353.5,"titleY":74,"titleAngle":0,"titleAlign":"center","titleBaseline":"alphabetic"}},
    "y":{"field":"y","type":"quantitative","scale":{"domain":[0,0.18],"nice":false},"axis":{"orient":"left","ticks":false,"domain":false,"grid":true,"gridColor":"#222","gridWidth":1.8,"gridOpacity":1,"values":[0,0.025,0.05,0.075,0.1,0.125,0.15,0.175],"gridDash":{"condition":{"test":"abs(datum.value*20-round(datum.value*20))<0.000001","value":[20,282,20]},"value":[10,302,10]},"format":"~g","labelExpr":"abs(datum.value*20-round(datum.value*20))<0.000001 ? datum.label : ''","labelPadding":9,"labelFont":"Liberation Serif","labelFontSize":22.5,"labelColor":"#000","labelOverlap":false,"title":null}},
    "color":{"field":"s","type":"nominal","scale":{"domain":["DD","DRd","RDd","DRr","RDr","RR"],"range":["#000000","#ff0000","#00ff00","#0000ff","#9400d3","#ff00ff"]},"legend":{"title":null,"orient":"none","legendX":87,"legendY":420,"symbolType":"stroke","symbolSize":400,"symbolStrokeWidth":2.5,"labelFont":"Liberation Serif","labelFontSize":21,"labelFontWeight":"bold","labelColor":"#000","labelOffset":20,"rowPadding":2.5,"padding":8,"labelLimit":400,"labelExpr":"slice(datum.label,0,2)"}}}},
  {"data":{"values":[{"t":"(e) zeta"}]},
   "mark":{"type":"text","align":"left","baseline":"middle","font":"Open Sans","fontWeight":"bold","fontSize":20,"color":"#000"},
   "encoding":{"text":{"field":"t","type":"nominal"},"x":{"datum":91.3,"type":"quantitative","axis":null},"y":{"datum":0.155,"type":"quantitative","axis":null}}}
 ]},
{"width":322,"height":295,"data":{"name":"f"},
 "resolve":{"axis":{"x":"independent","y":"independent"}},
 "layer":[
  {"mark":{"type":"line","strokeWidth":2.5},
   "encoding":{
    "x":{"field":"x","type":"quantitative","scale":{"domain":[0,360],"nice":false},"axis":{"orient":"bottom","ticks":false,"domain":false,"grid":true,"gridColor":"#222","gridWidth":1.8,"gridOpacity":1,"values":[0,30,60,90,120,150,180,210,240,270,300,330,360],"gridDash":{"condition":{"test":"datum.value % 60 === 0","value":[20,255,20]},"value":[10,275,10]},"format":"d","labelExpr":"datum.value % 60 === 0 ? datum.label : ''","labelFlush":false,"labelOverlap":false,"labelPadding":11,"labelFont":"Liberation Serif","labelFontSize":21.5,"labelColor":"#000","title":null}},
    "y":{"field":"y","type":"quantitative","scale":{"domain":[0,0.24],"nice":false},"axis":{"orient":"left","ticks":false,"domain":false,"grid":true,"gridColor":"#222","gridWidth":1.8,"gridOpacity":1,"values":[0,0.025,0.05,0.075,0.1,0.125,0.15,0.175,0.2,0.225],"gridDash":{"condition":{"test":"abs(datum.value*20-round(datum.value*20))<0.000001","value":[20,282,20]},"value":[10,302,10]},"format":"~g","labelExpr":"abs(datum.value*20-round(datum.value*20))<0.000001 ? datum.label : ''","labelPadding":9,"labelFont":"Liberation Serif","labelFontSize":22.5,"labelColor":"#000","labelOverlap":false,"title":null}},
    "color":{"field":"s","type":"nominal","scale":{"domain":["DD","DRd","RDd","DRr","RDr","RR"],"range":["#000000","#ff0000","#00ff00","#0000ff","#9400d3","#ff00ff"]},"legend":{"title":null,"orient":"none","legendX":87,"legendY":420,"symbolType":"stroke","symbolSize":400,"symbolStrokeWidth":2.5,"labelFont":"Liberation Serif","labelFontSize":21,"labelFontWeight":"bold","labelColor":"#000","labelOffset":20,"rowPadding":2.5,"padding":8,"labelLimit":400,"labelExpr":"slice(datum.label,0,2)"}}}},
  {"data":{"values":[{"t":"(f) chi"}]},
   "mark":{"type":"text","align":"left","baseline":"middle","font":"Open Sans","fontWeight":"bold","fontSize":20,"color":"#000"},
   "encoding":{"text":{"field":"t","type":"nominal"},"x":{"datum":36.5,"type":"quantitative","axis":null},"y":{"datum":0.2065,"type":"quantitative","axis":null}}}
 ]}
],
"config": {
 "view": {"stroke": "#222", "strokeWidth": 2},
 "axis": {"domain": false, "labelFont": "Liberation Serif", "labelColor": "#000", "titleFont": "Open Sans", "titleFontWeight": "bold", "titleFontSize": 23, "titleColor": "#000"},
 "legend": {"symbolStrokeWidth": 2.5}
}
}
